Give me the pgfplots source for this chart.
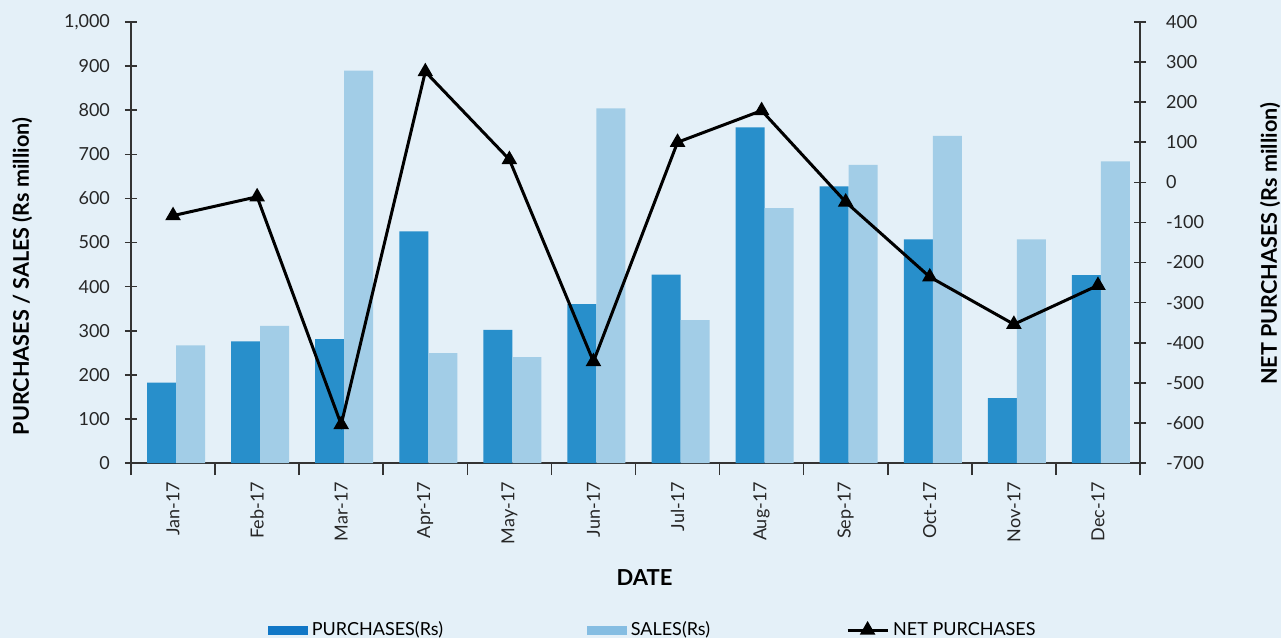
\documentclass[border=0pt]{standalone}
\usepackage{pgfplots}
\usepackage{pgfplotstable}
\pgfplotsset{compat=1.18}
\usepackage{fontspec}
\setmainfont{Lato}
\definecolor{bg}{HTML}{E4F0F8}
\definecolor{purch}{HTML}{288FCB}
\definecolor{sales}{HTML}{A2CDE7}
\definecolor{purchL}{HTML}{1177C6}
\definecolor{salesL}{HTML}{85BDE2}
\definecolor{axc}{HTML}{333333}
\pgfplotsset{
  netleg/.style={legend image code/.code={\draw[mark repeat=2,mark phase=2,##1] plot coordinates {(0pt,0pt)(10pt,0pt)(20pt,0pt)};}},
  purchleg/.style={legend image code/.code={\fill[purchL] (0pt,-2pt) rectangle (19.5pt,2pt);}},
  salesleg/.style={legend image code/.code={\fill[salesL] (0pt,-2pt) rectangle (19.5pt,2pt);}},
}

\pgfplotstableread{
x p s n
0 182 267 -83
1 276 311 -36
2 281 890 -604
3 525 249 276
4 302 240 57
5 360 804 -447
6 427 324 100
7 761 578 179
8 627 676 -49
9 507 742 -236
10 147 507 -354
11 426 684 -257
}\data

\begin{document}
\begin{tikzpicture}
\fill[bg] (0,0) rectangle (640.5pt,319pt);
\useasboundingbox (0,0) rectangle (640.5pt,319pt);
\begin{axis}[
  at={(65.5pt,87.5pt)}, anchor=south west,
  scale only axis, width=504.5pt, height=220.5pt,
  xmin=-0.5, xmax=11.5, ymin=0, ymax=1000,
  axis x line*=bottom, axis y line*=left,
  axis line style={axc, line width=0.8pt},
  ytick={0,100,...,1000},
  xtick={0,...,11},
  xticklabels={Jan-17,Feb-17,Mar-17,Apr-17,May-17,Jun-17,Jul-17,Aug-17,Sep-17,Oct-17,Nov-17,Dec-17},
  major x tick style={draw=none},
  minor xtick={-0.5,0.5,...,11.5},
  tick align=center, major tick length=6pt, minor tick length=6pt,
  tick style={axc, line width=0.8pt},
  /pgf/number format/1000 sep={,},
  /pgf/number format/assume math mode=true,
  ticklabel style={font=\fontsize{9}{10}\selectfont, text=black!85},
  yticklabel style={xshift=-4pt},
  xticklabel style={rotate=90, anchor=east},
  ylabel={PURCHASES / SALES (Rs million)},
  ylabel style={font=\bfseries\fontsize{10.8}{12}\selectfont, at={(axis description cs:-0.108,0.423)}, anchor=center},
  xlabel={DATE},
  xlabel style={font=\bfseries\fontsize{11}{13}\selectfont, at={(axis description cs:0.509,-0.2608)}, anchor=center},
  ybar=0pt, bar width=14.5pt,
]
\addplot[fill=purch, draw=none, xshift=1.5pt] table[x=x,y=p]{\data};
\addplot[fill=sales, draw=none, xshift=1.5pt] table[x=x,y=s]{\data};
\end{axis}
\begin{axis}[
  at={(65.5pt,87.5pt)}, anchor=south west,
  scale only axis, width=504.5pt, height=220.5pt,
  xmin=-0.5, xmax=11.5, ymin=-700, ymax=400,
  axis y line*=right, axis x line=none,
  axis line style={axc, line width=0.8pt},
  ytick={-700,-600,...,400},
  tick align=center, major tick length=6pt,
  tick style={axc, line width=0.8pt},
  /pgf/number format/assume math mode=true,
  ticklabel style={font=\fontsize{9}{10}\selectfont, text=black!85},
  yticklabel style={xshift=6.5pt},
  ylabel={NET PURCHASES (Rs million)},
  ylabel style={font=\bfseries\fontsize{10.8}{12}\selectfont, at={(axis description cs:1.129,0.497)}, anchor=center},
  legend columns=3,
  legend cell align=left,
  legend style={draw=none, fill=none, inner sep=0pt, outer sep=0pt,
    at={(axis description cs:0.1358,-0.3787)}, anchor=west,
    font=\fontsize{9}{11}\selectfont,
    /tikz/column 2/.style={column sep=70pt},
    /tikz/column 4/.style={column sep=66pt}},
]
\addlegendimage{purchleg}
\addlegendentry{PURCHASES(Rs)}
\addlegendimage{salesleg}
\addlegendentry{SALES(Rs)}
\addplot[black, line width=1.5pt, mark=triangle*, mark size=3pt, netleg]
  table[x=x,y=n]{\data};
\addlegendentry{NET PURCHASES}
\end{axis}
\end{tikzpicture}
\end{document}
